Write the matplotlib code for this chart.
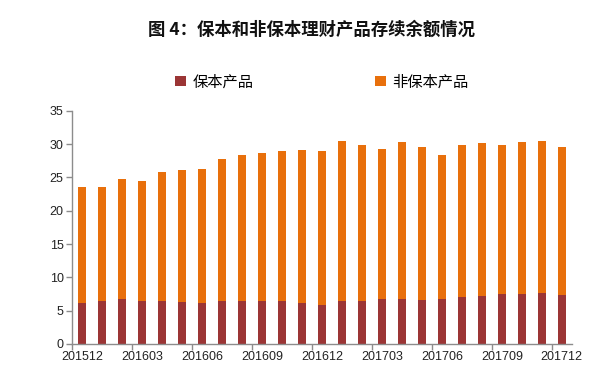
import matplotlib
matplotlib.use("Agg")
import matplotlib.pyplot as plt
import numpy as np

plt.rcParams['font.family'] = ['Noto Sans CJK SC', 'DejaVu Sans']

# monthly data, 201512 - 201712 (trillion yuan)
months = ['201512', '201601', '201602', '201603', '201604', '201605', '201606',
          '201607', '201608', '201609', '201610', '201611', '201612',
          '201701', '201702', '201703', '201704', '201705', '201706',
          '201707', '201708', '201709', '201710', '201711', '201712']
guaranteed = [6.1, 6.4, 6.7, 6.5, 6.5, 6.3, 6.1, 6.4, 6.5, 6.5, 6.4, 6.2, 5.9,
              6.5, 6.4, 6.7, 6.7, 6.6, 6.8, 7.0, 7.2, 7.5, 7.5, 7.7, 7.4]
total = [23.5, 23.6, 24.7, 24.5, 25.8, 26.1, 26.2, 27.8, 28.3, 28.7, 28.9, 29.1, 29.0,
         30.4, 29.9, 29.2, 30.3, 29.5, 28.4, 29.9, 30.1, 29.8, 30.3, 30.4, 29.5]
non_guaranteed = [t - g for t, g in zip(total, guaranteed)]

RED = '#9b3535'
ORANGE = '#e8700c'
AXIS = '#8c8c8c'

fig = plt.figure(figsize=(6.0, 3.86), dpi=100)
ax = fig.add_axes([0.12, 0.109, 0.833, 0.604])

x = np.arange(len(months))
ax.bar(x, guaranteed, width=0.42, color=RED, label='保本产品')
ax.bar(x, non_guaranteed, width=0.42, bottom=guaranteed, color=ORANGE, label='非保本产品')

ax.set_xlim(-0.5, len(months) - 0.5)
ax.set_ylim(0, 35)
ax.set_yticks(np.arange(0, 36, 5))

# tick marks between categories, labels under every third bar
ax.set_xticks(np.arange(-0.5, len(months) - 1, 3))
ax.set_xticklabels([])
ax.set_xticks(x[::3], minor=True)
ax.set_xticklabels(months[::3], minor=True)
ax.tick_params(axis='x', which='major', length=4, color=AXIS, width=1)
ax.tick_params(axis='x', which='minor', length=0, pad=5)
ax.tick_params(axis='y', length=4, color=AXIS, width=1, pad=2)
for lab in ax.get_xticklabels(minor=True) + ax.get_yticklabels():
    lab.set_family(['Liberation Sans', 'DejaVu Sans'])
    lab.set_fontsize(9)
    lab.set_color('#222222')

for s in ['top', 'right']:
    ax.spines[s].set_visible(False)
for s in ['left', 'bottom']:
    ax.spines[s].set_color(AXIS)
    ax.spines[s].set_linewidth(1)

ax.legend(loc='center', bbox_to_anchor=(0.5, 1.124), ncol=2, frameon=False,
          fontsize=11, handlelength=0.7, handleheight=0.7, handletextpad=0.4,
          columnspacing=8.0)

fig.text(0.52, 0.922, '图 4：保本和非保本理财产品存续余额情况', ha='center', va='center',
         fontsize=12.5, fontweight='bold', color='#111111')

fig.savefig('out.png', dpi=100)
